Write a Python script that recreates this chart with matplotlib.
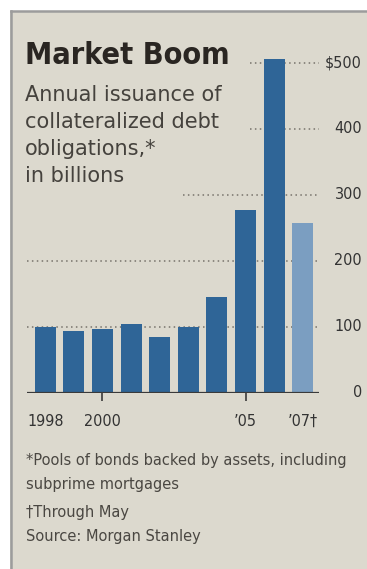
import matplotlib.pyplot as plt
import matplotlib.patches as mpatches
from matplotlib.lines import Line2D
import matplotlib.transforms as mtransforms

# CDO issuance, billions of dollars (2007 is January through May)
years = [1998, 1999, 2000, 2001, 2002, 2003, 2004, 2005, 2006, 2007]
issuance = [100, 93, 97, 104, 85, 100, 145, 277, 506, 257]
year_labels = {0: '1998', 2: '2000', 7: "\u201905", 9: "\u201907\u2020"}
grid_levels = [100, 200, 300, 400, 500]
grid_starts = [-0.65, -0.65, 4.81, 7.16, 7.16]   # where each dotted line begins (data x)
axis_labels = ['0', '100', '200', '300', '400', '$500']
axis_values = [0, 100, 200, 300, 400, 500]

BG = '#dcd9ce'
DARK_BLUE = '#2f6597'
LIGHT_BLUE = '#7b9ec1'

W, H = 367, 569
fig = plt.figure(figsize=(W / 100, H / 100), dpi=100)
fig.patch.set_facecolor('white')

# beige panel with a grey rule along top and left
fig.patches.append(mpatches.Rectangle((10 / W, 0), 1, (H - 11) / H, transform=fig.transFigure,
                                      facecolor=BG, edgecolor='none', zorder=-2))
fig.lines.append(Line2D([11 / W, 11 / W], [0, (H - 11) / H], transform=fig.transFigure,
                        color='#9c9c9c', lw=1.8, zorder=-1))
fig.lines.append(Line2D([11 / W, 1], [(H - 11) / H, (H - 11) / H], transform=fig.transFigure,
                        color='#9c9c9c', lw=1.8, zorder=-1))

ax_left, ax_right = 26.7, 319.3
y0_px, px_per_unit = 392.7, 0.66
ymax = 520
ax = fig.add_axes([ax_left / W, (H - y0_px) / H, (ax_right - ax_left) / W, ymax * px_per_unit / H])
ax.set_zorder(2)
ax.set_facecolor('none')
ax.set_xlim(-0.65, 9.58)
ax.set_ylim(0, ymax)

x = list(range(len(years)))
colors = [DARK_BLUE] * (len(years) - 1) + [LIGHT_BLUE]
ax.bar(x, issuance, width=0.73, color=colors, zorder=3)

for lvl, start in zip(grid_levels, grid_starts):
    ax.plot([start, 9.58], [lvl, lvl], color='#77736b', lw=1.1, ls=(0, (1, 2.2)), zorder=1)

for s in ax.spines.values():
    s.set_visible(False)
ax.axhline(0, color='#3a3a3a', lw=1.6, zorder=4)

ax.set_yticks([])
ax.set_xticks([2, 7])
ax.set_xticklabels([])
ax.tick_params(axis='x', length=6, width=1.2, color='#3a3a3a', direction='out')

for i, lab in year_labels.items():
    ax.text(i, -44, lab, ha='center', va='center', fontsize=11.5, color='#333333',
            fontstretch='condensed')

trans = mtransforms.blended_transform_factory(fig.transFigure, ax.transData)
for v, lab in zip(axis_values, axis_labels):
    ax.text(362 / W, v, lab, transform=trans, ha='right', va='center', fontsize=11.5,
            color='#333333', fontstretch='condensed')

# headline and chatter
fig.text(25 / W, 1 - 55 / H, 'Market Boom', fontsize=22, fontweight='bold', color='#2a2622',
         va='center', ha='left', fontstretch='condensed')
chatter = ['Annual issuance of', 'collateralized debt', 'obligations,*', 'in billions']
for k, line in enumerate(chatter):
    fig.text(25 / W, 1 - (95 + 27 * k) / H, line, fontsize=15, color='#45423d',
             va='center', ha='left')

notes = [('*Pools of bonds backed by assets, including', 460),
         ('subprime mortgages', 485),
         ('\u2020Through May', 512),
         ('Source: Morgan Stanley', 537)]
for txt, ypx in notes:
    fig.text(26 / W, 1 - ypx / H, txt, fontsize=10.5, color='#4a4742',
             va='center', ha='left')

fig.savefig('out.png', dpi=100)
